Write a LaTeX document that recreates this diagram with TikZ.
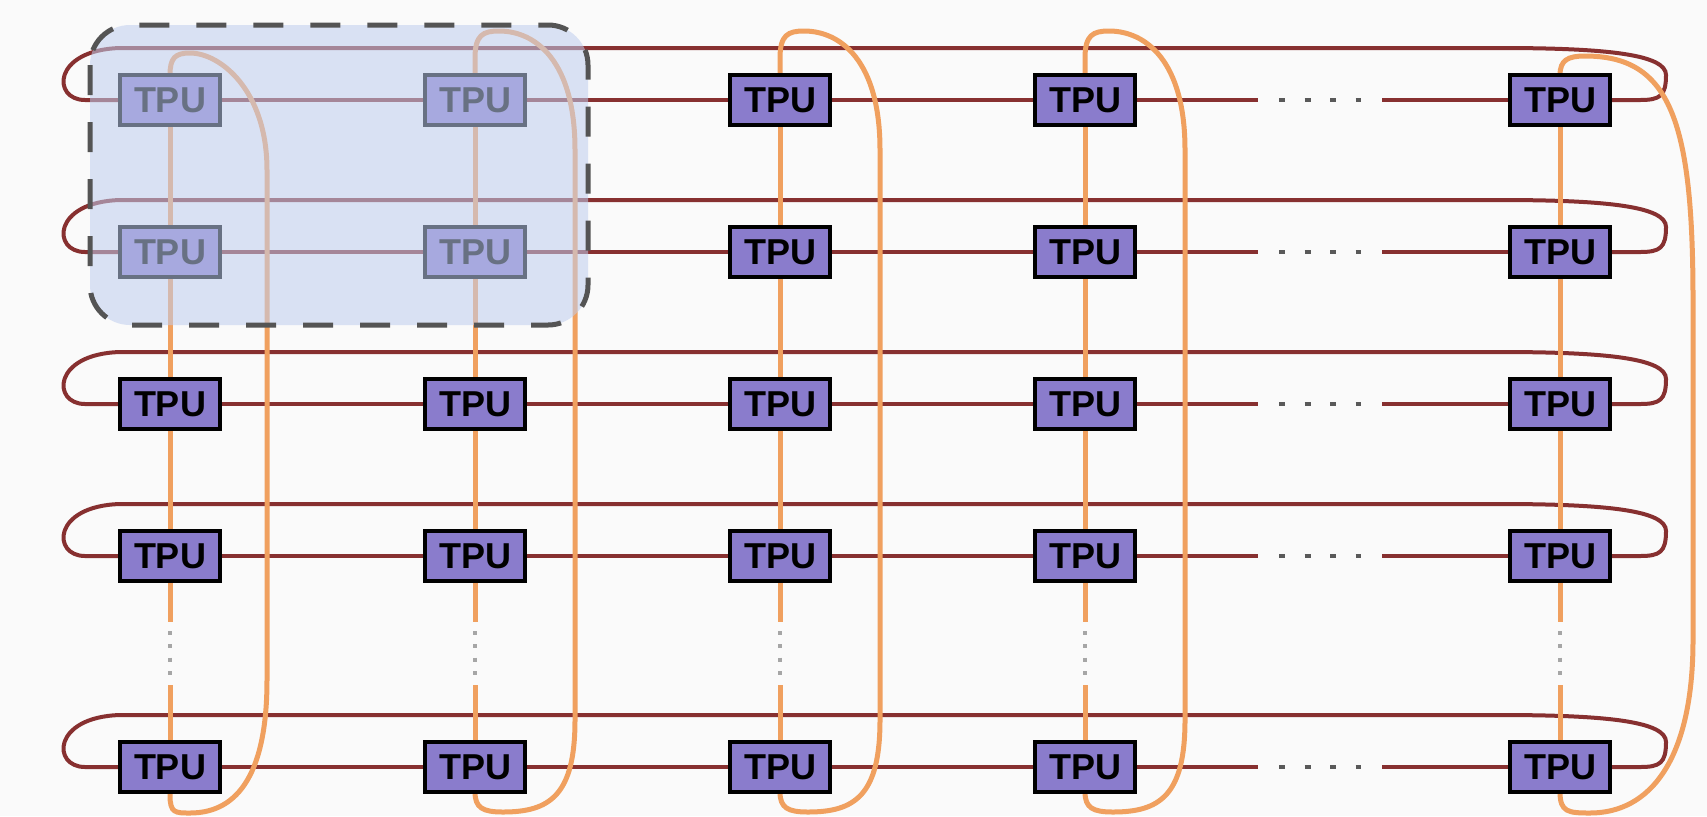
\documentclass[tikz,border=0pt]{standalone}
\usepackage{fontspec}
\setmainfont{Liberation Sans}
\usetikzlibrary{positioning,backgrounds}

\definecolor{tpufill}{RGB}{138,124,204}
\definecolor{ringred}{RGB}{135,48,48}
\definecolor{linkorange}{RGB}{240,160,95}
\definecolor{hostblue}{RGB}{191,206,239}
\definecolor{paper}{RGB}{250,250,250}

\begin{document}
\begin{tikzpicture}[
	x = 0.5pt, y = -0.5pt, % one unit = one pixel, y runs down
	node distance = 152.5pt, % column pitch
	tpu/.style = {draw = black, line width = 2pt, fill = tpufill, minimum width = 50pt, minimum height = 25pt, inner sep = 0pt, font = \fontsize{18}{18}\selectfont\bfseries},
	ring/.style = {draw = ringred, line width = 2pt},
	link/.style = {draw = linkorange, line width = 2.5pt},
	hgap/.style = {draw = black!65, line width = 1.6pt, dash pattern = on 3pt off 9.75pt, shorten < = 10.5pt, shorten > = 10.5pt},
	vgap/.style = {draw = black!35, line width = 1.6pt, dash pattern = on 2pt off 4.67pt, shorten < = 4.5pt, shorten > = 5pt},
	host/.style = {draw = black!67, line width = 2.5pt, dash pattern = on 15pt off 13.5pt, fill = hostblue, fill opacity = 0.55, rounded corners = 20pt}
	]
	
	\useasboundingbox (0,0) rectangle (1707,816);
	
	% first row
	\node[tpu] (t11) at (170,100) {TPU};
	\node[tpu] (t12) [right of=t11] {TPU};
	\node[tpu] (t13) [right of=t12] {TPU};
	\node[tpu] (t14) [right of=t13] {TPU};
	\node[tpu] (t15) [node distance=237.5pt, right of=t14] {TPU};
	% second row
	\node[tpu] (t21) [node distance=76pt, below of=t11] {TPU};
	\node[tpu] (t22) [right of=t21] {TPU};
	\node[tpu] (t23) [right of=t22] {TPU};
	\node[tpu] (t24) [right of=t23] {TPU};
	\node[tpu] (t25) [node distance=237.5pt, right of=t24] {TPU};
	% third row
	\node[tpu] (t31) [node distance=76pt, below of=t21] {TPU};
	\node[tpu] (t32) [right of=t31] {TPU};
	\node[tpu] (t33) [right of=t32] {TPU};
	\node[tpu] (t34) [right of=t33] {TPU};
	\node[tpu] (t35) [node distance=237.5pt, right of=t34] {TPU};
	% fourth row
	\node[tpu] (t41) [node distance=76pt, below of=t31] {TPU};
	\node[tpu] (t42) [right of=t41] {TPU};
	\node[tpu] (t43) [right of=t42] {TPU};
	\node[tpu] (t44) [right of=t43] {TPU};
	\node[tpu] (t45) [node distance=237.5pt, right of=t44] {TPU};
	% last row
	\node[tpu] (t51) [node distance=105.5pt, below of=t41] {TPU};
	\node[tpu] (t52) [right of=t51] {TPU};
	\node[tpu] (t53) [right of=t52] {TPU};
	\node[tpu] (t54) [right of=t53] {TPU};
	\node[tpu] (t55) [node distance=237.5pt, right of=t54] {TPU};
	
	% ends of the elided stretches
	\node[coordinate] (h1a) [node distance=86.5pt, right of=t14] {};
	\node[coordinate] (h1b) [node distance=89pt, left of=t15] {};
	\node[coordinate] (h2a) [node distance=86.5pt, right of=t24] {};
	\node[coordinate] (h2b) [node distance=89pt, left of=t25] {};
	\node[coordinate] (h3a) [node distance=86.5pt, right of=t34] {};
	\node[coordinate] (h3b) [node distance=89pt, left of=t35] {};
	\node[coordinate] (h4a) [node distance=86.5pt, right of=t44] {};
	\node[coordinate] (h4b) [node distance=89pt, left of=t45] {};
	\node[coordinate] (h5a) [node distance=86.5pt, right of=t54] {};
	\node[coordinate] (h5b) [node distance=89pt, left of=t55] {};
	\node[coordinate] (v1a) [node distance=33pt, below of=t41] {};
	\node[coordinate] (v1b) [node distance=41pt, above of=t51] {};
	\node[coordinate] (v2a) [node distance=33pt, below of=t42] {};
	\node[coordinate] (v2b) [node distance=41pt, above of=t52] {};
	\node[coordinate] (v3a) [node distance=33pt, below of=t43] {};
	\node[coordinate] (v3b) [node distance=41pt, above of=t53] {};
	\node[coordinate] (v4a) [node distance=33pt, below of=t44] {};
	\node[coordinate] (v4b) [node distance=41pt, above of=t54] {};
	\node[coordinate] (v5a) [node distance=33pt, below of=t45] {};
	\node[coordinate] (v5b) [node distance=41pt, above of=t55] {};
	
	\begin{scope}[on background layer]
		\fill[paper] (0,0) rectangle (1707,816);
		
		% row rings
		\draw[ring] (t11) -- (t12) -- (t13) -- (t14) -- (h1a) (h1b) -- (t15);
		\draw[ring] (t21) -- (t22) -- (t23) -- (t24) -- (h2a) (h2b) -- (t25);
		\draw[ring] (t31) -- (t32) -- (t33) -- (t34) -- (h3a) (h3b) -- (t35);
		\draw[ring] (t41) -- (t42) -- (t43) -- (t44) -- (h4a) (h4b) -- (t45);
		\draw[ring] (t51) -- (t52) -- (t53) -- (t54) -- (h5a) (h5b) -- (t55);
		\draw[ring] (t11.west) -- (85,100) .. controls (52,100) and (52,50) .. (120,48) -- (1500,48) .. controls (1610,48) and (1666,55) .. (1666,75) .. controls (1666,96) and (1660,100) .. (1640,100) -- (t15.east);
		\draw[ring] (t21.west) -- (85,252) .. controls (52,252) and (52,202) .. (120,200) -- (1500,200) .. controls (1610,200) and (1666,207) .. (1666,227) .. controls (1666,248) and (1660,252) .. (1640,252) -- (t25.east);
		\draw[ring] (t31.west) -- (85,404) .. controls (52,404) and (52,354) .. (120,352) -- (1500,352) .. controls (1610,352) and (1666,359) .. (1666,379) .. controls (1666,400) and (1660,404) .. (1640,404) -- (t35.east);
		\draw[ring] (t41.west) -- (85,556) .. controls (52,556) and (52,506) .. (120,504) -- (1500,504) .. controls (1610,504) and (1666,511) .. (1666,531) .. controls (1666,552) and (1660,556) .. (1640,556) -- (t45.east);
		\draw[ring] (t51.west) -- (85,767) .. controls (52,767) and (52,717) .. (120,715) -- (1500,715) .. controls (1610,715) and (1666,722) .. (1666,742) .. controls (1666,763) and (1660,767) .. (1640,767) -- (t55.east);
		\draw[hgap] (h1a) -- (h1b);
		\draw[hgap] (h2a) -- (h2b);
		\draw[hgap] (h3a) -- (h3b);
		\draw[hgap] (h4a) -- (h4b);
		\draw[hgap] (h5a) -- (h5b);
		
		% column rings
		\draw[link] (t11) -- (t21) -- (t31) -- (t41) -- (v1a) (v1b) -- (t51);
		\draw[link] (t12) -- (t22) -- (t32) -- (t42) -- (v2a) (v2b) -- (t52);
		\draw[link] (t13) -- (t23) -- (t33) -- (t43) -- (v3a) (v3b) -- (t53);
		\draw[link] (t14) -- (t24) -- (t34) -- (t44) -- (v4a) (v4b) -- (t54);
		\draw[link] (t15) -- (t25) -- (t35) -- (t45) -- (v5a) (v5b) -- (t55);
		\draw[link] (t51.south) -- (170,795) .. controls (170,813) and (175,813) .. (190,813) .. controls (240,813) and (267,770) .. (267,680) -- (267,170) .. controls (267,90) and (220,53) .. (190,53) .. controls (175,53) and (170,58) .. (170,75) -- (t11.north);
		\draw[link] (t52.south) -- (475,792) .. controls (475,808) and (483,812) .. (503,812) .. controls (550,812) and (575,795) .. (575,720) -- (575,150) .. controls (575,60) and (535,31) .. (499,31) .. controls (483,31) and (475,35) .. (475,58) -- (t12.north);
		\draw[link] (t53.south) -- (780,792) .. controls (780,808) and (788,812) .. (808,812) .. controls (855,812) and (880,795) .. (880,720) -- (880,150) .. controls (880,60) and (840,31) .. (804,31) .. controls (788,31) and (780,35) .. (780,58) -- (t13.north);
		\draw[link] (t54.south) -- (1085,792) .. controls (1085,808) and (1093,812) .. (1113,812) .. controls (1160,812) and (1185,795) .. (1185,720) -- (1185,150) .. controls (1185,60) and (1145,31) .. (1109,31) .. controls (1093,31) and (1085,35) .. (1085,58) -- (t14.north);
		\draw[link] (t55.south) -- (1560,792) .. controls (1560,812) and (1568,813) .. (1590,813) .. controls (1650,813) and (1693,760) .. (1693,640) -- (1693,300) .. controls (1693,120) and (1670,56) .. (1585,56) .. controls (1568,56) and (1560,60) .. (1560,75) -- (t15.north);
		\draw[vgap] (v1a) -- (v1b);
		\draw[vgap] (v2a) -- (v2b);
		\draw[vgap] (v3a) -- (v3b);
		\draw[vgap] (v4a) -- (v4b);
		\draw[vgap] (v5a) -- (v5b);
	\end{scope}
	
	% faded host block
	\draw[host] (90,25) rectangle (588,325);
	
\end{tikzpicture}
\end{document}
